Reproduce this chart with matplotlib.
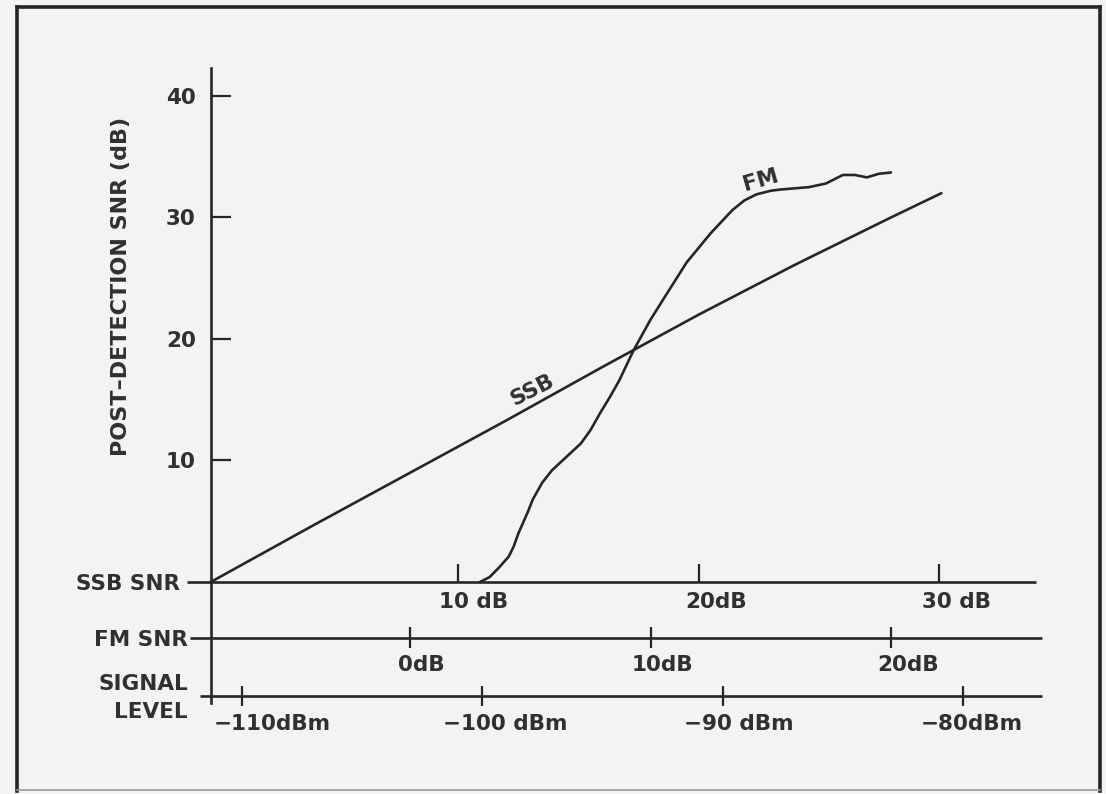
import numpy as np
import matplotlib.pyplot as plt
from matplotlib.transforms import offset_copy
from matplotlib.lines import Line2D

# ---- data ----
# post-detection SNR (dB) against signal level (dBm)
ssb_signal = [-111.3, -107.0, -103.0, -99.0, -95.0, -91.0, -87.0, -83.0, -80.9]
ssb_snr = [0.0, 4.7, 9.0, 13.3, 17.7, 22.0, 26.1, 30.0, 32.0]

fm_signal = [-100.1, -99.7, -99.3, -98.9, -98.7, -98.5, -98.3, -98.1, -97.9,
             -97.5, -97.1, -96.5, -95.9, -95.5, -95.1, -94.7, -94.3, -93.7,
             -93.0, -92.3, -91.5, -90.5, -89.6, -89.1, -88.6, -88.0, -87.6,
             -86.4, -85.7, -85.0, -84.5, -84.0, -83.5, -83.0]
fm_snr = [0.0, 0.4, 1.2, 2.1, 2.9, 4.0, 4.9, 5.8, 6.8,
          8.2, 9.2, 10.3, 11.4, 12.5, 13.9, 15.2, 16.6, 19.1,
          21.6, 23.8, 26.3, 28.7, 30.6, 31.4, 31.9, 32.2, 32.3,
          32.5, 32.8, 33.5, 33.5, 33.3, 33.6, 33.7]

snr_ticks = [10, 20, 30, 40]
ssb_snr_ticks = [10, 20, 30]
ssb_snr_labels = ['10 dB', '20dB', '30 dB']
fm_snr_ticks = [0, 10, 20]
fm_snr_labels = ['0dB', '10dB', '20dB']
signal_ticks = [-110, -100, -90, -80]
signal_labels = ['\u2212110dBm', '\u2212100 dBm', '\u221290 dBm', '\u221280dBm']

SSB_OFFSET = 111   # SSB SNR = signal level + 111 dB
FM_OFFSET = 103    # FM SNR  = signal level + 103 dB

# ---- layout (pixels of the 1106x794 picture) ----
W, H = 1106, 794
XLIM = (-120.07, -74.05)
YLIM = (-17.45, 47.90)
INK = '#262626'
TXT = '#303030'
LW = 1.9
FONT = dict(family='DejaVu Sans', fontweight='bold', fontsize=15.5, color=TXT)


def px_x(px):
    return XLIM[0] + px / W * (XLIM[1] - XLIM[0])


def px_y(py):
    return YLIM[1] - py / H * (YLIM[1] - YLIM[0])


fig = plt.figure(figsize=(W / 100, H / 100), dpi=100)
fig.patch.set_facecolor('#f3f3f3')
ax = fig.add_axes([0, 0, 1, 1])
ax.set_xlim(*XLIM)
ax.set_ylim(*YLIM)
ax.patch.set_visible(False)

# vertical axis
for s in ['top', 'right', 'bottom']:
    ax.spines[s].set_visible(False)
ax.spines['left'].set_position(('data', px_x(211)))
ax.spines['left'].set_bounds(px_y(703), px_y(68))
ax.spines['left'].set_linewidth(LW)
ax.spines['left'].set_color(INK)
ax.set_xticks([])
ax.set_yticks(snr_ticks)
ax.set_yticklabels([str(t) for t in snr_ticks], **FONT)
ax.tick_params(axis='y', direction='in', length=14.5, width=1.6,
               color=INK, pad=11)
ax.text(px_x(121), px_y(286), 'POST\u2013DETECTION SNR (dB)', rotation=90,
        ha='center', va='center', **{**FONT, 'fontsize': 16})


def draw_scale(y_px, x0_px, x1_px, ticks, labels, offset, up, down,
               label_dy, label_dx, name, name_gap):
    yv = px_y(y_px)
    ax.plot([px_x(x0_px), px_x(x1_px)], [yv, yv], color=INK, lw=LW,
            solid_capstyle='butt')
    pos = np.array(ticks) - offset
    ax.vlines(pos, px_y(y_px + down), px_y(y_px - up), color=INK, lw=1.6)
    for p, lab, dx in zip(pos, labels, label_dx):
        tr = offset_copy(ax.transData, fig=fig, x=dx, y=-label_dy,
                         units='dots')
        ax.text(p, yv, lab, transform=tr, ha='center', va='center', **FONT)
    tr = offset_copy(ax.transData, fig=fig, x=-name_gap, y=-2, units='dots')
    ax.text(px_x(x0_px), yv, name, transform=tr, ha='right', va='center',
            multialignment='right', linespacing=1.45, **FONT)


draw_scale(582, 187, 1036, ssb_snr_ticks, ssb_snr_labels, SSB_OFFSET,
           18, 0, 20, [15, 17, 18], 'SSB SNR', 7)
draw_scale(638, 190, 1042, fm_snr_ticks, fm_snr_labels, FM_OFFSET,
           11, 10, 27, [11, 12, 17], 'FM SNR', 2)
draw_scale(696, 200, 1042, signal_ticks, signal_labels, 0,
           10, 10, 28, [30, 23, 16, 9], 'SIGNAL\nLEVEL', 12)

# curves
ax.plot(ssb_signal, ssb_snr, color=INK, lw=LW, solid_capstyle='round')
ax.plot(fm_signal, fm_snr, color=INK, lw=LW, solid_capstyle='round',
        solid_joinstyle='round')
ax.text(-97.9, 15.8, 'SSB', rotation=27, ha='center', va='center', **FONT)
ax.text(-88.4, 33.1, 'FM', rotation=16, ha='center', va='center', **FONT)


# scanned frame
def frame_line(x0, y0, x1, y1, color, lw):
    fig.add_artist(Line2D([x0 / W, x1 / W], [1 - y0 / H, 1 - y1 / H],
                          transform=fig.transFigure, color=color, lw=lw))


frame_line(17, 7, 1100, 7, INK, 2.6)
frame_line(17, 7, 17, 791, INK, 2.6)
frame_line(1100, 7, 1100, 791, INK, 2.6)
frame_line(17, 790, 1100, 790, '#9a9a9a', 1.2)

fig.savefig('out.png', dpi=100, facecolor=fig.get_facecolor())
